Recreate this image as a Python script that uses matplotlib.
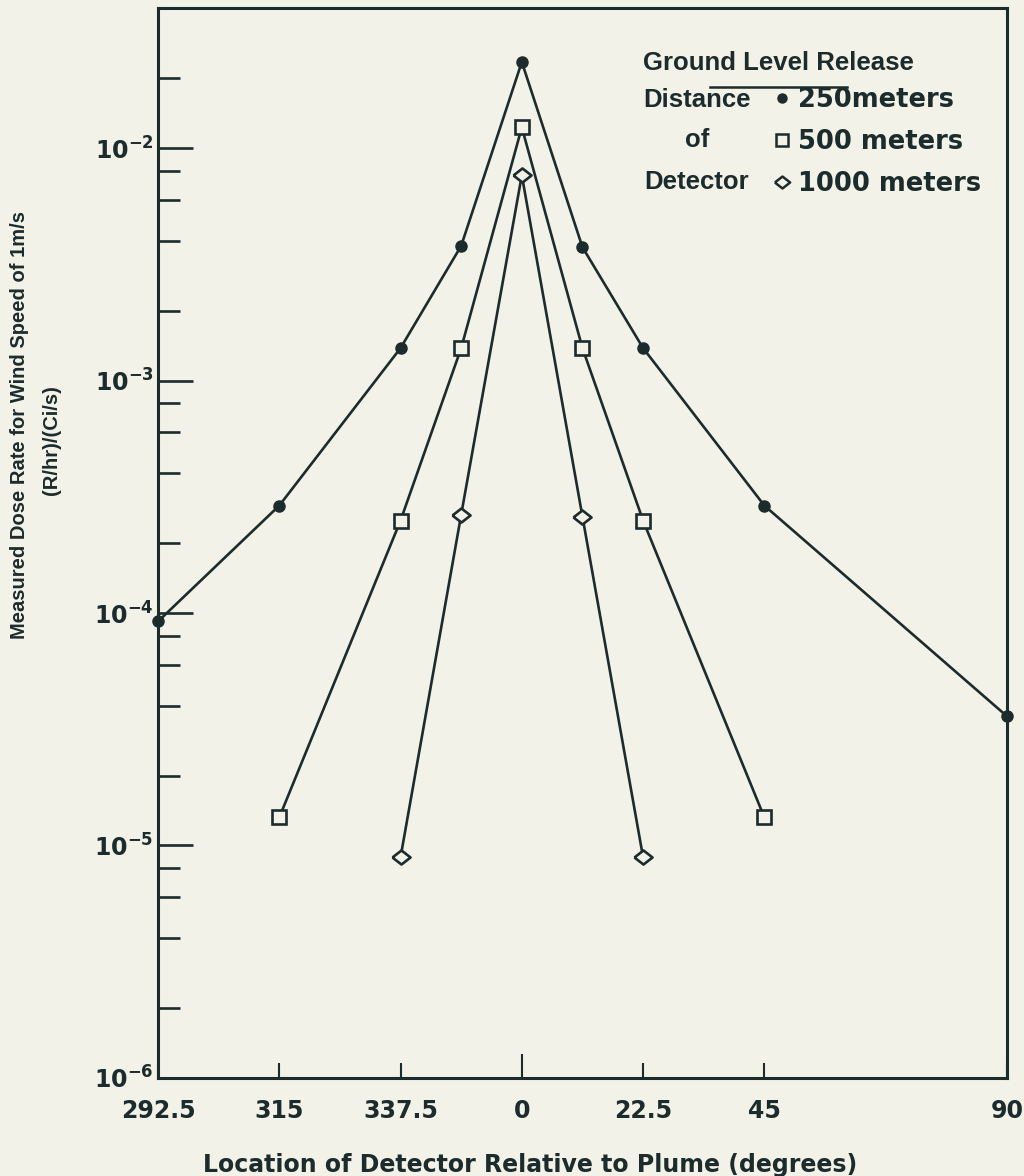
import matplotlib
matplotlib.use("Agg")
import matplotlib.pyplot as plt
from matplotlib.lines import Line2D
from matplotlib.ticker import FixedLocator, NullFormatter

plt.rcParams['font.family'] = ['Liberation Sans', 'DejaVu Sans']
plt.rcParams['mathtext.fontset'] = 'custom'
plt.rcParams['mathtext.rm'] = 'DejaVu Sans:bold'
plt.rcParams['mathtext.it'] = 'DejaVu Sans:bold'
plt.rcParams['mathtext.bf'] = 'DejaVu Sans:bold'

# ---- data (angle relative to plume centreline, degrees) ----
angles_250 = [-67.5, -45, -22.5, -11.25, 0, 11.25, 22.5, 45, 90]
dose_250 = [9.2e-5, 2.9e-4, 1.38e-3, 3.8e-3, 2.35e-2, 3.75e-3, 1.38e-3, 2.9e-4, 3.6e-5]

angles_500 = [-45, -22.5, -11.25, 0, 11.25, 22.5, 45]
dose_500 = [1.32e-5, 2.5e-4, 1.38e-3, 1.23e-2, 1.38e-3, 2.5e-4, 1.32e-5]

angles_1000 = [-22.5, -11.25, 0, 11.25, 22.5]
dose_1000 = [8.9e-6, 2.65e-4, 7.65e-3, 2.6e-4, 8.9e-6]

xtick_pos = [-67.5, -45, -22.5, 0, 22.5, 45, 90]
xtick_labels = ["292.5", "315", "337.5", "0", "22.5", "45", "90"]
ytick_major = [1e-6, 1e-5, 1e-4, 1e-3, 1e-2]
ytick_labels = [r"$\mathrm{10^{-6}}$", r"$\mathrm{10^{-5}}$", r"$\mathrm{10^{-4}}$",
                r"$\mathrm{10^{-3}}$", r"$\mathrm{10^{-2}}$"]
ytick_minor = [m * d for d in [1e-6, 1e-5, 1e-4, 1e-3, 1e-2] for m in (2, 4, 6, 8)
               if m * d < 0.04]

series_labels = ["250meters", "500 meters", "1000 meters"]

ink = "#1c2b2b"
paper = "#f3f2e9"
wide = ["DejaVu Sans"]

# flattened diamond marker
diamond = [(-1, 0), (0, 0.78), (1, 0), (0, -0.78), (-1, 0)]

fig = plt.figure(figsize=(10.24, 11.76), dpi=100, facecolor=paper)
ax = fig.add_axes([0.1543, 0.0834, 0.829, 0.9098])
ax.set_facecolor(paper)
ax.set_yscale("log")
ax.set_xlim(-67.5, 90)
ax.set_ylim(1e-6, 0.0401)

lw = 1.9
ax.plot(angles_250, dose_250, color=ink, lw=lw, marker="o", ms=8,
        mfc=ink, mec=ink, clip_on=False, zorder=3)
ax.plot(angles_500, dose_500, color=ink, lw=lw, marker="s", ms=9.5,
        mfc=paper, mec=ink, mew=1.9, clip_on=False, zorder=3)
ax.plot(angles_1000, dose_1000, color=ink, lw=lw, marker=diamond, ms=13,
        mfc=paper, mec=ink, mew=1.9, clip_on=False, zorder=3)

for s in ax.spines.values():
    s.set_color(ink)
    s.set_linewidth(2.2)

ax.yaxis.set_major_locator(FixedLocator(ytick_major))
ax.set_yticklabels(ytick_labels)
ax.yaxis.set_minor_locator(FixedLocator(ytick_minor))
ax.yaxis.set_minor_formatter(NullFormatter())
ax.tick_params(axis="y", which="major", direction="in", length=25, width=1.9,
               color=ink, labelsize=17, labelcolor=ink, pad=3)
ax.tick_params(axis="y", which="minor", direction="in", length=16, width=1.9,
               color=ink)

ax.set_xticks(xtick_pos)
ax.set_xticklabels(xtick_labels, family=wide, fontweight="bold")
ax.tick_params(axis="x", which="major", direction="in", length=11, width=1.5,
               color=ink, labelsize=17, labelcolor=ink, pad=15)
ax.xaxis.get_major_ticks()[3].tick1line.set_markersize(17)

ax.set_xlabel("Location of Detector Relative to Plume (degrees)",
              fontsize=17, fontweight="bold", color=ink, family=wide)
ax.xaxis.set_label_coords(0.438, -0.07)

fig.text(20 / 1024, 1 - 425 / 1176, "Measured Dose Rate for Wind Speed of 1m/s",
         rotation=90, fontsize=14.5, fontweight="bold", color=ink,
         ha="center", va="center")
fig.text(51 / 1024, 1 - 440 / 1176, "(R/hr)/(Ci/s)",
         rotation=90, fontsize=14.5, fontweight="bold", color=ink,
         ha="center", va="center")

# ---- legend block ----
ax.text(0.571, 0.9485, "Ground Level Release", transform=ax.transAxes,
        fontsize=18.5, fontweight="bold", color=ink, va="center", ha="left")
ax.plot([0.6502, 0.8115], [0.926, 0.926], transform=ax.transAxes,
        color=ink, lw=1.8)
for t, fy in zip(["Distance", "of", "Detector"], [0.9139, 0.8764, 0.8371]):
    ax.text(0.635, fy, t, transform=ax.transAxes, fontsize=18.5,
            fontweight="bold", color=ink, va="center", ha="center")

handles = [
    Line2D([], [], ls="none", marker="o", ms=6.5, mfc=ink, mec=ink),
    Line2D([], [], ls="none", marker="s", ms=8.5, mfc=paper, mec=ink, mew=1.8),
    Line2D([], [], ls="none", marker=diamond, ms=11, mfc=paper, mec=ink, mew=1.8),
]
leg = ax.legend(handles, series_labels, loc="upper left",
                bbox_to_anchor=(0.7255, 0.926), frameon=False,
                prop={"size": 18.5, "weight": "bold", "family": wide},
                handlelength=0.65, handletextpad=0.28, labelspacing=0.62,
                borderpad=0, borderaxespad=0, labelcolor=ink)

fig.savefig("out.png", dpi=100, facecolor=paper)
